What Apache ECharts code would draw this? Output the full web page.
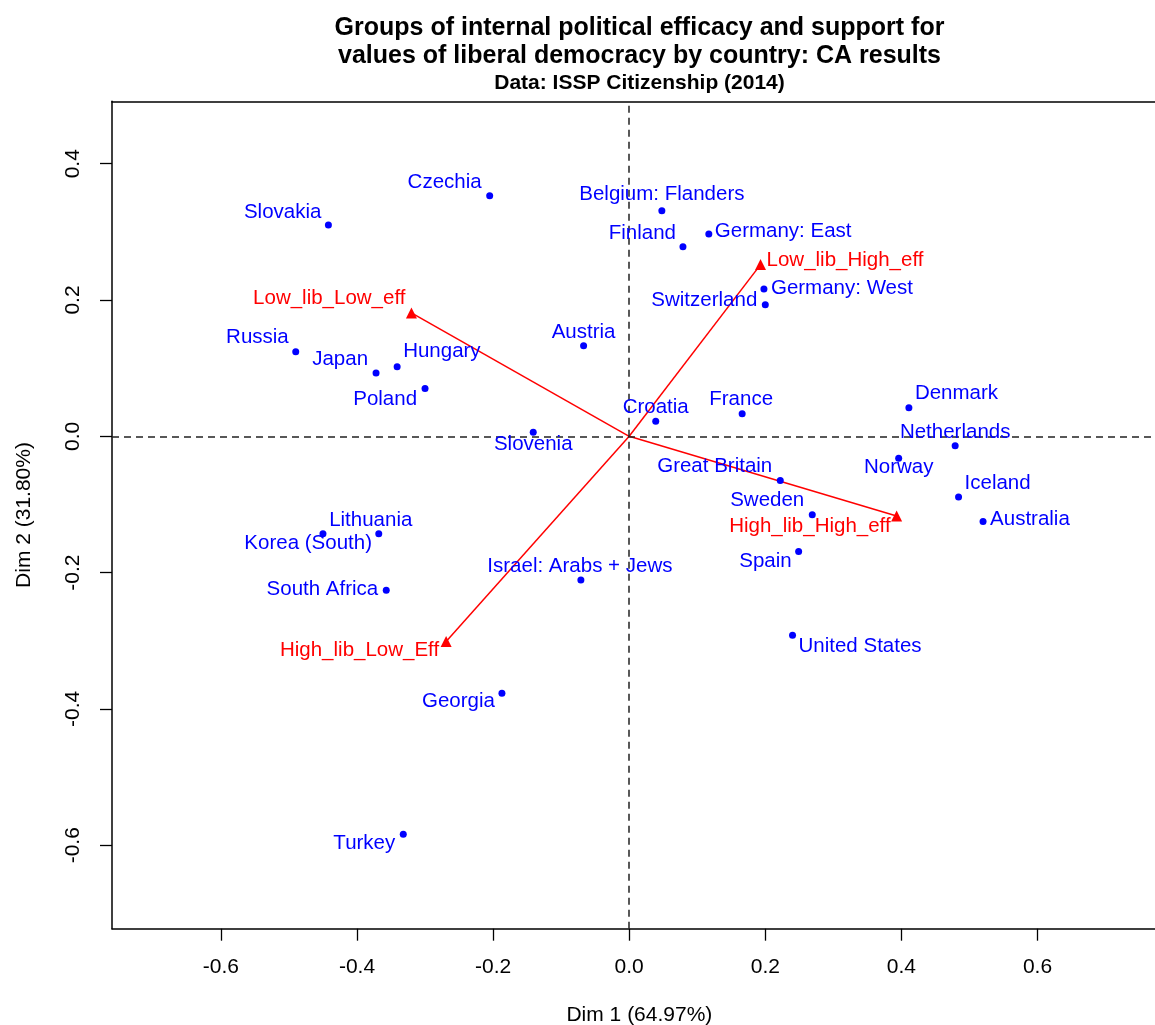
<!DOCTYPE html>
<html><head><meta charset="utf-8">
<script src="https://cdn.jsdelivr.net/npm/echarts@6/dist/echarts.min.js"></script>
<style>html,body{margin:0;padding:0;background:#fff}#c{width:1155px;height:1025px}</style>
</head><body><div id="c"></div>
<script>
// ---- data ----
const countries = ["Czechia","Belgium: Flanders","Slovakia","Finland","Germany: East","Germany: West","Switzerland","Austria","Russia","Japan","Hungary","Poland","Slovenia","Croatia","France","Denmark","Netherlands","Norway","Great Britain","Iceland","Sweden","Australia","Spain","Lithuania","Korea (South)","Israel: Arabs + Jews","South Africa","United States","Georgia","Turkey"];
const countryDim1 = [-0.205,0.048,-0.442,0.079,0.117,0.198,0.200,-0.067,-0.490,-0.372,-0.341,-0.300,-0.141,0.039,0.166,0.411,0.479,0.396,0.222,0.484,0.269,0.520,0.249,-0.368,-0.450,-0.071,-0.357,0.240,-0.187,-0.332];
const countryDim2 = [0.353,0.331,0.310,0.278,0.297,0.216,0.193,0.133,0.124,0.093,0.102,0.070,0.006,0.022,0.033,0.042,-0.014,-0.032,-0.065,-0.089,-0.115,-0.125,-0.169,-0.143,-0.143,-0.211,-0.226,-0.292,-0.377,-0.584];
const groups = ["Low_lib_High_eff","Low_lib_Low_eff","High_lib_High_eff","High_lib_Low_Eff"];
const groupDim1 = [0.193,-0.320,0.393,-0.269];
const groupDim2 = [0.252,0.181,-0.117,-0.301];
const xTicks = [-0.6,-0.4,-0.2,0.0,0.2,0.4,0.6];
const yTicks = [-0.6,-0.4,-0.2,0.0,0.2,0.4];

// ---- label placement (align, dx px, dy px) ----
const countryLabelPlace = [
  ['right',-8,-13],['center',0,-16],['right',-7,-13],['right',-7,-14],['left',6,-3],
  ['left',7,-1],['right',-8,-4],['center',0,-13],['right',-7,-14],['right',-8,-14],
  ['left',6,-15],['right',-8,11],['center',0,12],['center',0,-14],['center',-1,-14],
  ['left',6,-14],['center',0,-14],['center',0,9],['right',-8,-14],['left',6,-14],
  ['right',-8,-14],['left',7,-2],['right',-7,10],['center',-8,-13],['right',49,10],
  ['center',-1,-14],['right',-8,-1],['left',6,11],['right',-7,8],['right',-8,9]
];
const groupLabelPlace = [['left',6,-4],['right',-6,-15],['right',-6,10],['right',-7,9]];

const FONT = 'Liberation Sans, Arial, Helvetica, sans-serif';
const BLUE = '#0000FF', RED = '#FF0000';

const countryData = countries.map((n,i)=>({
  name:n, value:[countryDim1[i],countryDim2[i]],
  label:{align:countryLabelPlace[i][0], offset:[countryLabelPlace[i][1],countryLabelPlace[i][2]]}
}));
const groupData = groups.map((n,i)=>({
  name:n, value:[groupDim1[i],groupDim2[i]],
  label:{align:groupLabelPlace[i][0], offset:[groupLabelPlace[i][1],groupLabelPlace[i][2]]}
}));
const arrowSeries = groups.map((n,i)=>({
  type:'line', data:[[0,0],[groupDim1[i],groupDim2[i]]], showSymbol:false, symbol:'none',
  lineStyle:{color:RED,width:1.5,opacity:1}, silent:true, z:3, animation:false
}));

const XMIN = -0.76, XMAX = 0.79;
const chart = echarts.init(document.getElementById('c'), null, {renderer:'canvas'});
chart.setOption({
  backgroundColor:'#fff',
  animation:false,
  textStyle:{fontFamily:FONT},
  title:[
    {text:'Groups of internal political efficacy and support for\nvalues of liberal democracy by country: CA results',
     left:639.5, top:13.6, textAlign:'center', padding:0,
     textStyle:{fontFamily:FONT,fontSize:25,fontWeight:'bold',color:'#000',lineHeight:28.4}},
    {text:'Data: ISSP Citizenship (2014)', left:639.5, top:72.5, textAlign:'center', padding:0,
     textStyle:{fontFamily:FONT,fontSize:21,fontWeight:'bold',color:'#000',lineHeight:21}}
  ],
  grid:{left:112, top:101.3, height:827.4, width:1054.8, outerBoundsMode:'none', show:false, containLabel:false},
  xAxis:[
   {type:'value', min:XMIN, max:XMAX, position:'bottom',
    name:'Dim 1 (64.97%)', nameLocation:'middle', nameGap:76,
    nameTextStyle:{fontFamily:FONT,fontSize:21,color:'#000'},
    axisLine:{show:true,onZero:false,lineStyle:{color:'#000',width:1.5}},
    axisTick:{show:true,length:12,inside:false,customValues:xTicks,lineStyle:{color:'#000',width:1.3}},
    axisLabel:{show:true,margin:27.8,customValues:xTicks,fontFamily:FONT,fontSize:21,color:'#000',
      formatter:v=>Number(v).toFixed(1)},
    splitLine:{show:false}},
   {type:'value', min:XMIN, max:XMAX, position:'top',
    axisLine:{show:true,onZero:false,lineStyle:{color:'#000',width:1.5}},
    axisTick:{show:false}, axisLabel:{show:false}, splitLine:{show:false}}
  ],
  yAxis:{type:'value', min:-0.7225, max:0.4916,
    name:'Dim 2 (31.80%)', nameLocation:'middle', nameGap:77, nameRotate:90,
    nameTextStyle:{fontFamily:FONT,fontSize:21,color:'#000'},
    axisLine:{show:true,onZero:false,lineStyle:{color:'#000',width:1.5}},
    axisTick:{show:true,length:12,inside:false,customValues:yTicks,lineStyle:{color:'#000',width:1.3}},
    axisLabel:{show:true,margin:28.5,rotate:90,customValues:yTicks,fontFamily:FONT,fontSize:21,color:'#000',
      formatter:v=>Number(v).toFixed(1)},
    splitLine:{show:false}},
  series:[
    {type:'scatter', data:[], silent:true, z:1,
     markLine:{silent:true, symbol:'none', label:{show:false}, animation:false,
       lineStyle:{color:'#222',width:1.5,type:[7,5],opacity:1},
       data:[{xAxis:0},{yAxis:0}]}},
    ...arrowSeries,
    {type:'scatter', data:groupData, symbol:'triangle', symbolSize:11, z:4,
     itemStyle:{color:RED,opacity:1},
     label:{show:true, position:'inside', formatter:'{b}', color:RED, fontFamily:FONT, fontSize:20.5, verticalAlign:'middle'}},
    {type:'scatter', data:countryData, symbol:'circle', symbolSize:7, z:5,
     itemStyle:{color:BLUE,opacity:1},
     label:{show:true, position:'inside', formatter:'{b}', color:BLUE, fontFamily:FONT, fontSize:20.5, verticalAlign:'middle'}}
  ]
});
</script></body></html>
